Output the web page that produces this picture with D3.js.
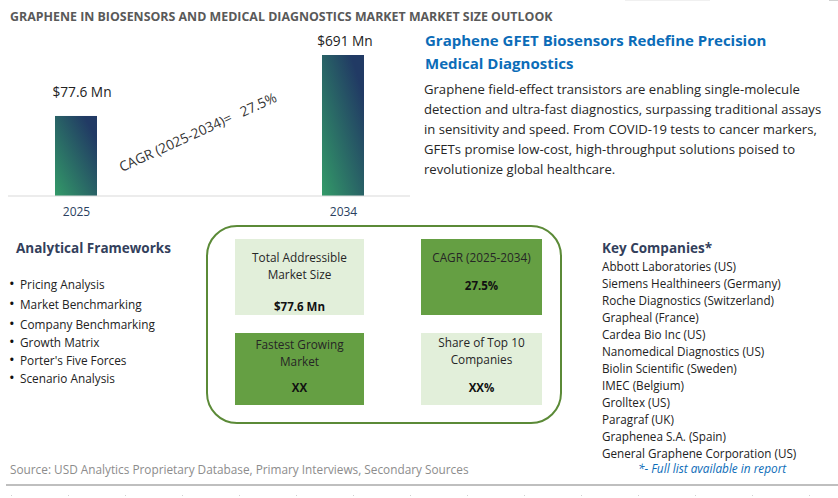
<!DOCTYPE html>
<html>
<head>
<meta charset="utf-8">
<script src="https://cdn.jsdelivr.net/npm/d3@7"></script>
<style>
  html, body { margin: 0; padding: 0; background: #fff; }
  svg { display: block; }
  text { font-family: "Open Sans", sans-serif; }
</style>
</head>
<body>
<div id="chart"></div>
<script>
const categories = ["2025", "2034"];
const marketValues = [77.6, 691];
const valueLabels = ["$77.6 Mn", "$691 Mn"];
const cagrLabel = "CAGR (2025-2034)=   27.5%";

const headingLines = ["Graphene GFET Biosensors Redefine Precision", "Medical Diagnostics"];
const bodyLines = [
  "Graphene field-effect transistors are enabling single-molecule",
  "detection and ultra-fast diagnostics, surpassing traditional assays",
  "in sensitivity and speed. From COVID-19 tests to cancer markers,",
  "GFETs promise low-cost, high-throughput solutions poised to",
  "revolutionize global healthcare."
];
const frameworks = ["Pricing Analysis", "Market Benchmarking", "Company Benchmarking", "Growth Matrix", "Porter's Five Forces", "Scenario Analysis"];
const companies = [
  "Abbott Laboratories (US)", "Siemens Healthineers (Germany)", "Roche Diagnostics (Switzerland)",
  "Grapheal (France)", "Cardea Bio Inc (US)", "Nanomedical Diagnostics (US)", "Biolin Scientific (Sweden)",
  "IMEC (Belgium)", "Grolltex (US)", "Paragraf (UK)", "Graphenea S.A. (Spain)", "General Graphene Corporation (US)"
];
const kpiTitles = [["Total Addressible", "Market Size"], ["CAGR (2025-2034)"], ["Fastest Growing", "Market"], ["Share of Top 10", "Companies"]];
const kpiValues = ["$77.6 Mn", "27.5%", "XX", "XX%"];

const width = 838, height = 498;
const svg = d3.select("#chart").append("svg").attr("width", width).attr("height", height);

function textLine(x, y, str, size, fill, weight, anchor) {
  return svg.append("text")
    .attr("x", x).attr("y", y)
    .attr("font-size", size).attr("fill", fill)
    .attr("font-weight", weight || 400)
    .attr("text-anchor", anchor || "start")
    .style("white-space", "pre")
    .text(str);
}

textLine(10, 21, "GRAPHENE IN BIOSENSORS AND MEDICAL DIAGNOSTICS MARKET MARKET SIZE OUTLOOK", 12.4, "#595959", 700);

// faint leftovers along the top edge of the screenshot
svg.append("rect").attr("x", 625).attr("y", 0).attr("width", 85).attr("height", 1).attr("fill", "#f0f0f0");
svg.append("rect").attr("x", 829).attr("y", 0).attr("width", 9).attr("height", 1).attr("fill", "#d0d0d0");

// bars in the picture are not to scale, a log axis is what fits their heights
const baseY = 196;
const x = d3.scalePoint().domain(categories).range([76, 343]);
const y = d3.scaleLog().domain([4.4, 691]).range([baseY, 55]);
const barW = 42;
const labelGap = [19, 9];
const labelShift = [6, 2];

const grad = svg.append("defs").append("linearGradient")
  .attr("id", "barFill")
  .attr("x1", 0).attr("y1", 1).attr("x2", 1).attr("y2", 0);
grad.append("stop").attr("offset", "0%").attr("stop-color", "#339a68");
grad.append("stop").attr("offset", "85%").attr("stop-color", "#213a64");

svg.selectAll("rect.bar")
  .data(marketValues)
  .enter()
  .append("rect")
  .attr("class", "bar")
  .attr("x", (d, i) => x(categories[i]) - barW / 2)
  .attr("y", d => y(d))
  .attr("width", barW)
  .attr("height", d => baseY - y(d))
  .attr("fill", "url(#barFill)");

svg.selectAll("text.value")
  .data(marketValues)
  .enter()
  .append("text")
  .attr("class", "value")
  .attr("x", (d, i) => x(categories[i]) + labelShift[i])
  .attr("y", (d, i) => y(d) - labelGap[i])
  .attr("text-anchor", "middle")
  .attr("font-size", 13.7)
  .attr("fill", "#222")
  .text((d, i) => valueLabels[i]);

const axis = svg.append("g")
  .attr("transform", `translate(0,${baseY})`)
  .call(d3.axisBottom(x).tickSize(0).tickPadding(11));
axis.select(".domain").remove();
axis.selectAll("text").attr("font-size", 12).attr("fill", "#2a3f5f").style("font-family", '"Open Sans", sans-serif');

svg.append("line")
  .attr("x1", 8).attr("x2", 410).attr("y1", baseY).attr("y2", baseY)
  .attr("stroke", "#d9d9d9").attr("stroke-width", 1);

svg.append("text")
  .attr("transform", "translate(122,172) rotate(-24.5)")
  .attr("font-size", 13.7)
  .attr("fill", "#333")
  .style("white-space", "pre")
  .text(cagrLabel);

headingLines.forEach((s, i) => textLine(425, 46 + i * 23, s, 15, "#0b6cb8", 700));
bodyLines.forEach((s, i) => textLine(424, 94 + i * 20, s, 13.1, "#262626"));

textLine(16, 253, "Analytical Frameworks", 13.5, "#333f5c", 700);
const fwY = [289, 309, 329, 347, 365, 383];
frameworks.forEach((s, i) => {
  textLine(9, fwY[i], "\u2022", 15, "#111");
  textLine(20, fwY[i], s, 11.8, "#222");
});

// kpi panel
svg.append("rect")
  .attr("x", 207).attr("y", 226).attr("width", 354).attr("height", 197)
  .attr("rx", 30).attr("ry", 30)
  .attr("fill", "#fff").attr("stroke", "#5b8a37").attr("stroke-width", 2);

const kpiBoxes = [
  {x: 235, y: 239, w: 129, h: 76, fill: "#e2efda", ty: [262, 279], vy: 311},
  {x: 421, y: 239, w: 121, h: 76, fill: "#659f43", ty: [262], vy: 290},
  {x: 235, y: 333, w: 129, h: 72, fill: "#659f43", ty: [349, 366], vy: 392},
  {x: 421, y: 333, w: 121, h: 72, fill: "#e2efda", ty: [347, 364], vy: 392}
];
kpiBoxes.forEach((b, i) => {
  svg.append("rect").attr("x", b.x).attr("y", b.y).attr("width", b.w).attr("height", b.h).attr("fill", b.fill);
  const cx = b.x + b.w / 2;
  kpiTitles[i].forEach((s, j) => textLine(cx, b.ty[j], s, 11.8, "#262626", 400, "middle"));
  textLine(cx, b.vy, kpiValues[i], 11.5, "#111", 700, "middle");
});

textLine(602, 253, "Key Companies*", 13.5, "#333f5c", 700);
companies.forEach((s, i) => textLine(602, 271 + i * 17, s, 11.7, "#222"));
textLine(638, 473, "*- Full list available in report", 11.8, "#0b6cb8", 400).attr("font-style", "italic");

textLine(10, 474, "Source: USD Analytics Proprietary Database, Primary Interviews, Secondary Sources", 11.8, "#8c8c8c");
svg.append("line")
  .attr("x1", 6).attr("x2", 838).attr("y1", 485).attr("y2", 485)
  .attr("stroke", "#bfbfbf").attr("stroke-width", 2);

// row of tiny gridline dots under the rule
svg.selectAll("rect.dot")
  .data(d3.range(11, width, 57))
  .enter()
  .append("rect")
  .attr("class", "dot")
  .attr("x", d => d).attr("y", 495)
  .attr("width", 1).attr("height", 1)
  .attr("fill", "#d0d0d0");
</script>
</body>
</html>
